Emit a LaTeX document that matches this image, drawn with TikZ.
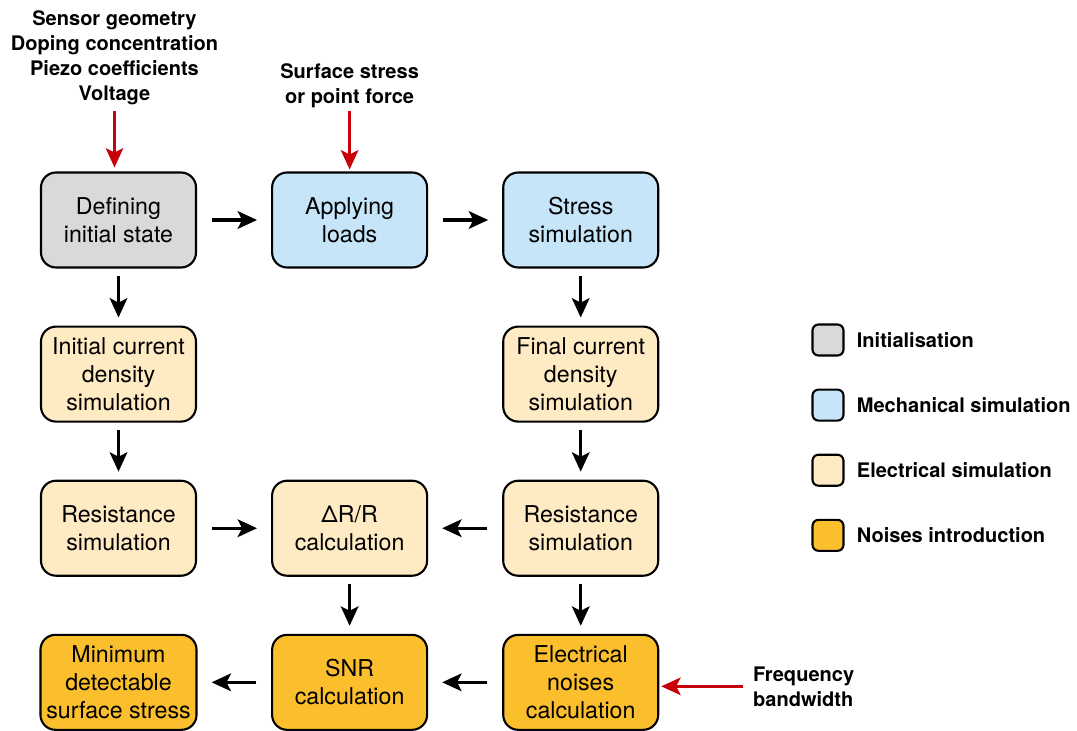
\documentclass[tikz,border=0pt]{standalone}
\usepackage{fontspec}
\setmainfont{TeX Gyre Heros}
\usetikzlibrary{arrows.meta,positioning}
\usepackage{xcolor}
\definecolor{initGray}{HTML}{D9D9D9}
\definecolor{mechBlue}{HTML}{C7E5F8}
\definecolor{elecCream}{HTML}{FFEBC3}
\definecolor{noiseOrange}{HTML}{FBBF2E}
\definecolor{inputRed}{HTML}{C8000A}
\tikzset{
    stage/.style={
        rectangle,
        rounded corners=0.3cm,
        draw=black,
        line width=1.2pt,
        align=center,
        minimum width=3.1cm,
        minimum height=1.9cm,
        font=\fontsize{13.2}{16}\selectfont
    },
    initstage/.style={stage, fill=initGray},
    mechstage/.style={stage, fill=mechBlue},
    elecstage/.style={stage, fill=elecCream},
    noisestage/.style={stage, fill=noiseOrange},
    legendbox/.style={
        rectangle,
        rounded corners=0.12cm,
        draw=black,
        line width=1.2pt,
        minimum size=0.62cm
    },
    legendtext/.style={font=\fontsize{11.4}{14}\selectfont\bfseries, inner sep=0pt},
    input/.style={align=center, font=\fontsize{11.4}{14.2}\selectfont\bfseries, inner sep=2pt},
    arrow/.style={-{Stealth[length=11pt,width=10pt,inset=2.5pt]}, line width=1.8pt,
        shorten <=0.14cm, shorten >=0.16cm},
    harrow/.style={arrow, shorten <=0.3cm, shorten >=0.28cm},
    inarrow/.style={-{Stealth[length=11pt,width=10pt,inset=2.5pt]}, line width=1.5pt,
        draw=inputRed}
}

\begin{document}
\begin{tikzpicture}[node distance=1.14cm and 1.48cm]
    \useasboundingbox (0,0) rectangle (21.54,-14.62);

    % simulation stages
    \node[initstage] (define) at (2.37,-4.40) {Defining\\initial state};
    \node[mechstage, right=of define] (loads) {Applying\\loads};
    \node[mechstage, right=of loads] (stress) {Stress\\simulation};
    \node[elecstage, below=of define] (initcur) {Initial current\\density\\simulation};
    \node[elecstage, below=of stress] (finalcur) {Final current\\density\\simulation};
    \node[elecstage, below=of initcur] (resinit) {Resistance\\simulation};
    \node[elecstage, below=of finalcur] (resfinal) {Resistance\\simulation};
    \node[elecstage, right=of resinit] (deltar) {ΔR/R\\calculation};
    \node[noisestage, below=of resfinal] (elnoise) {Electrical\\noises\\calculation};
    \node[noisestage, below=of deltar] (snr) {SNR\\calculation};
    \node[noisestage, below=of resinit] (minstress) {Minimum\\detectable\\surface stress};

    % inputs
    \node[input, above=1.26cm of define, xshift=-0.08cm] (params)
        {Sensor geometry\\Doping concentration\\Piezo coefficients\\Voltage};
    \node[input, above=1.2cm of loads] (load) {Surface stress\\or point force};
    \node[input, align=left, right=1.8cm of elnoise, yshift=-0.08cm] (bandwidth)
        {Frequency\\bandwidth};

    % legend
    \node[legendbox, fill=initGray] (leginit) at (16.56,-6.80) {};
    \node[legendbox, fill=mechBlue, below=0.64cm of leginit] (legmech) {};
    \node[legendbox, fill=elecCream, below=0.64cm of legmech] (legelec) {};
    \node[legendbox, fill=noiseOrange, below=0.64cm of legelec] (legnoise) {};
    \node[legendtext, right=0.24cm of leginit] (leginittext) {Initialisation};
    \node[legendtext, right=0.24cm of legmech] (legmechtext) {Mechanical simulation};
    \node[legendtext, right=0.24cm of legelec] (legelectext) {Electrical simulation};
    \node[legendtext, right=0.24cm of legnoise] (legnoisetext) {Noises introduction};

    \draw[harrow] (define) -- (loads);
    \draw[harrow] (loads) -- (stress);
    \draw[arrow] (define) -- (initcur);
    \draw[arrow] (initcur) -- (resinit);
    \draw[arrow] (stress) -- (finalcur);
    \draw[arrow] (finalcur) -- (resfinal);
    \draw[harrow] (resinit) -- (deltar);
    \draw[harrow] (resfinal) -- (deltar);
    \draw[arrow] (deltar) -- (snr);
    \draw[arrow] (resfinal) -- (elnoise);
    \draw[harrow] (elnoise) -- (snr);
    \draw[harrow] (snr) -- (minstress);

    \draw[inarrow, shorten <=0.06cm, shorten >=0.08cm] (params) -- (params |- define.north);
    \draw[inarrow, shorten >=0.04cm] (load) -- (load |- loads.north);
    \draw[inarrow, shorten <=0.12cm, shorten >=0.04cm] (bandwidth) -- (bandwidth -| elnoise.east);
\end{tikzpicture}
\end{document}
